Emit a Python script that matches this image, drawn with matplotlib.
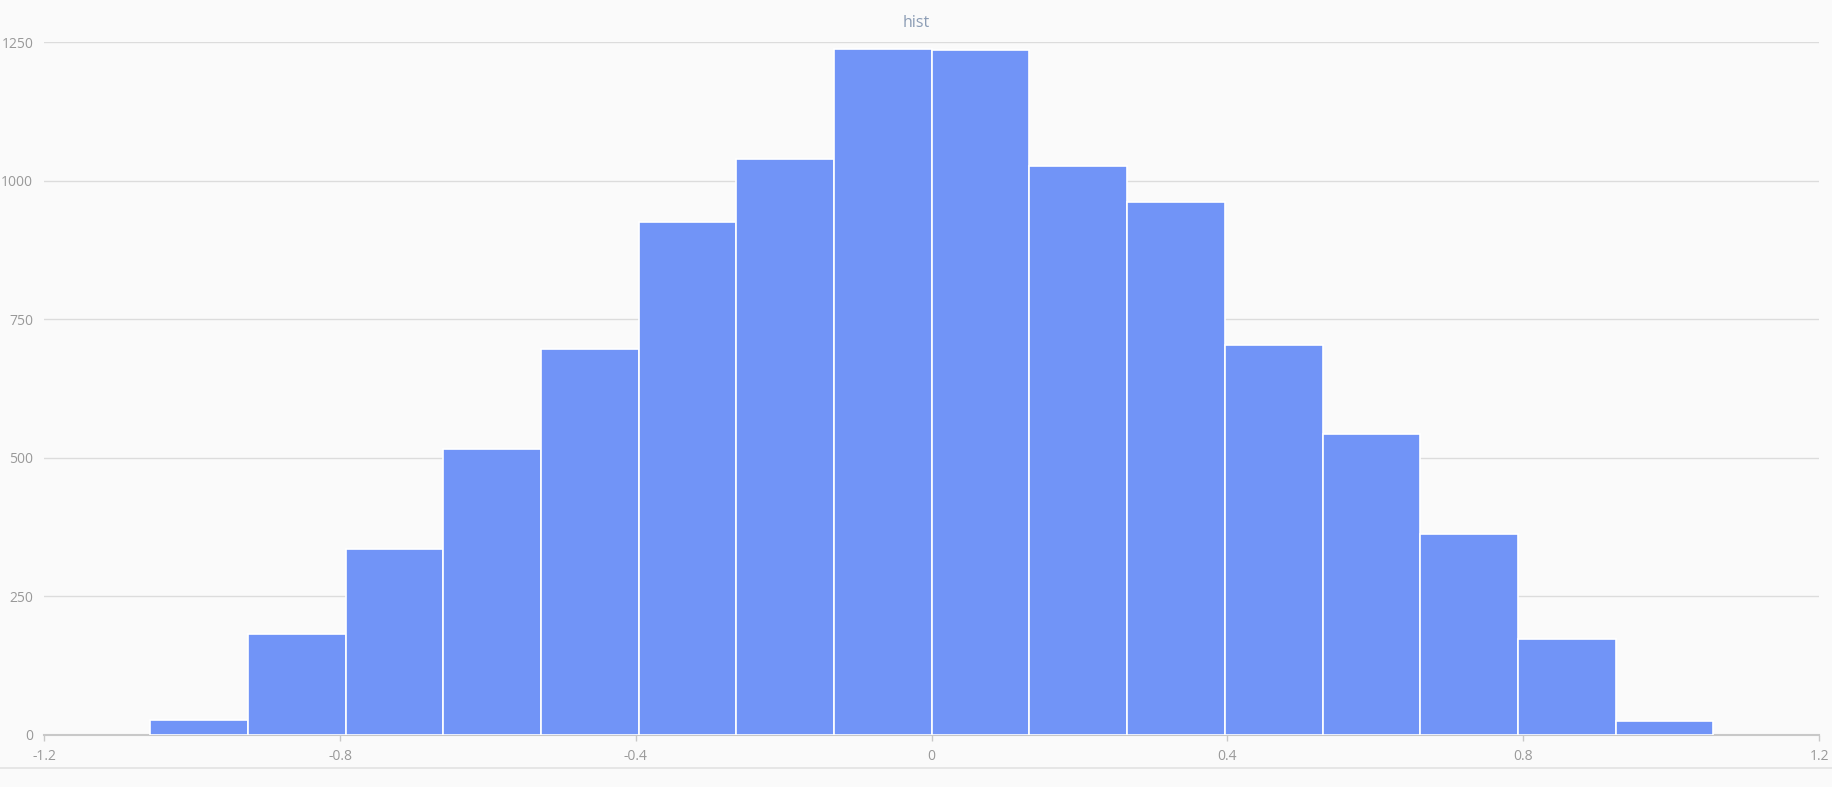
import matplotlib.pyplot as plt
import matplotlib
from matplotlib.lines import Line2D
import numpy as np

matplotlib.rcParams['font.family'] = ['Open Sans', 'DejaVu Sans']
matplotlib.rcParams['font.size'] = 10

# histogram data
bin_lo = -1.057
bin_hi = 1.057
counts = [27, 182, 335, 515, 697, 926, 1039, 1237, 1235, 1026, 961, 703, 543, 363, 173, 25]
x_ticks = [-1.2, -0.8, -0.4, 0, 0.4, 0.8, 1.2]
x_tick_labels = ['-1.2', '-0.8', '-0.4', '0', '0.4', '0.8', '1.2']
y_ticks = [0, 250, 500, 750, 1000, 1250]
title = 'hist'

bg = '#fafafa'
bar_color = '#7194f7'
grid_color = '#dcdcdc'
text_color = '#999999'

edges = np.linspace(bin_lo, bin_hi, len(counts) + 1)

fig = plt.figure(figsize=(18.33, 7.87), dpi=100, facecolor=bg)
ax = fig.add_axes([0.0242, 0.0661, 0.9682, 0.8805])
ax.set_facecolor(bg)

ax.bar(edges[:-1], counts, width=np.diff(edges), align='edge',
       color=bar_color, edgecolor='white', linewidth=1.2, zorder=3)

ax.set_xlim(-1.2, 1.2)
ax.set_ylim(0, 1250)
ax.set_xticks(x_ticks)
ax.set_xticklabels(x_tick_labels)
ax.set_yticks(y_ticks)

for s in ['top', 'right', 'left']:
    ax.spines[s].set_visible(False)
ax.spines['bottom'].set_color('#c8c8c8')
ax.spines['bottom'].set_linewidth(1.5)
ax.spines['bottom'].set_zorder(2)

ax.grid(axis='y', color=grid_color, linewidth=1, zorder=0)
ax.tick_params(axis='x', colors='#c8c8c8', length=4, width=1, labelcolor=text_color, labelsize=10, pad=6)
ax.tick_params(axis='y', length=0, labelcolor=text_color, labelsize=10, pad=8)

fig.text(0.4997, 0.971, title, ha='center', va='center', color='#8c9db5', fontsize=11.5)

# light border line near the bottom of the canvas
fig.add_artist(Line2D([0, 1], [1 - 768 / 787, 1 - 768 / 787], color='#e2e2e2', linewidth=1.2))

plt.savefig('out.png', dpi=100, facecolor=bg)
